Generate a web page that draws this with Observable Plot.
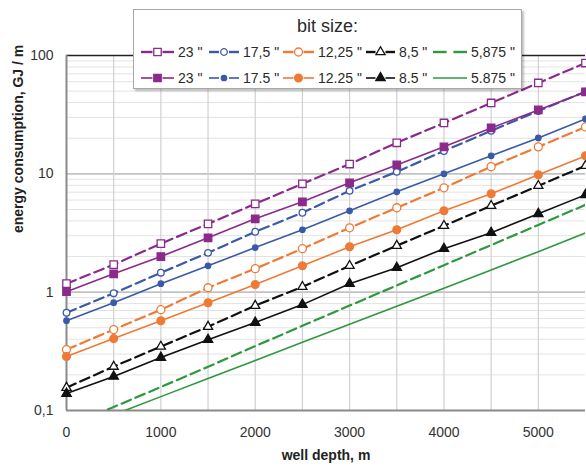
<!DOCTYPE html>
<html><head><meta charset="utf-8">
<script src="https://cdn.jsdelivr.net/npm/d3@7"></script>
<script src="https://cdn.jsdelivr.net/npm/@observablehq/plot@0.6"></script>
<style>
body{margin:0;background:#fff;font-family:"Liberation Sans",Arial,sans-serif;}
#wrap{position:relative;width:586px;height:470px;overflow:hidden;}
#legend{position:absolute;left:133px;top:9px;width:387px;height:78px;background:#fff;border:1px solid #a8a8a8;box-shadow:2px 2px 2px rgba(0,0,0,0.25);color:#2a2a2a;}
#legend .title{position:absolute;left:0;right:0;top:6px;text-align:center;font-size:18px;}
#legend .item{position:absolute;height:14px;display:flex;align-items:center;font-size:14px;white-space:nowrap;}
#legend svg{margin-right:4px;}
</style></head>
<body><div id="wrap"><div id="chart"></div><div id="legend"><div class="title">bit size:</div></div></div>
<script>
const depth = [0,500,1000,1500,2000,2500,3000,3500,4000,4500,5000,5500];
const hollow23   = [1.18,1.71,2.57,3.78,5.58,8.24,12.1,18.3,26.9,39.7,58.6,86.4];
const filled23   = [1.01,1.43,2.0,2.88,4.17,5.80,8.40,11.9,16.9,24.4,34.7,49.2];
const hollow175  = [0.67,0.98,1.46,2.15,3.24,4.69,7.19,10.4,15.6,23.1,34.0,49.5];
const filled175  = [0.574,0.815,1.18,1.67,2.38,3.37,4.87,7.05,10.0,14.2,20.1,29.1];
const hollow1225 = [0.327,0.483,0.711,1.09,1.58,2.33,3.50,5.17,7.62,11.5,16.9,24.9];
const filled1225 = [0.286,0.405,0.574,0.815,1.16,1.67,2.42,3.37,4.87,6.78,9.81,14.2];
const hollow85   = [0.156,0.235,0.347,0.511,0.769,1.11,1.67,2.47,3.64,5.37,7.92,11.7];
const filled85   = [0.139,0.194,0.280,0.397,0.553,0.785,1.18,1.61,2.33,3.18,4.59,6.65];
const dashed5875 = [0.072,0.107,0.158,0.234,0.35,0.52,0.77,1.14,1.69,2.5,3.7,5.47];
const solid5875  = [0.065,0.092,0.131,0.186,0.265,0.377,0.536,0.762,1.08,1.54,2.2,3.16];

const legendRow1 = ['23 "', '17,5 "', '12,25 "', '8,5 "', '5,875 "'];
const legendRow2 = ['23 "', '17.5 "', '12.25 "', '8.5 "', '5.875 "'];
const xTicks = [0,1000,2000,3000,4000,5000];
const xGrid = [500,1000,1500,2000,2500,3000,3500,4000,4500,5000];
const yTicks = [0.1,1,10,100];
const yMinor = [0.2,0.3,0.4,0.5,0.6,0.7,0.8,0.9,2,3,4,5,6,7,8,9,20,30,40,50,60,70,80,90];
const yMajorGrid = [1,10];
const xDomain = [0,5500];
const yDomain = [0.1,100];
const xLabel = "well depth, m";
const yLabel = "energy consumption, GJ / m";

const purple="#8b2a8c", blue="#3a5aa8", orange="#ee7a36", black="#111111", green="#2f983d";
const series = [
  {v:hollow23, color:purple, dashed:true, symbol:"square", hollow:true, r:4.2, label:legendRow1[0]},
  {v:hollow175, color:blue, dashed:true, symbol:"circle", hollow:true, r:3.3, label:legendRow1[1]},
  {v:hollow1225, color:orange, dashed:true, symbol:"circle", hollow:true, r:4.0, label:legendRow1[2]},
  {v:hollow85, color:black, dashed:true, symbol:"triangle", hollow:true, r:3.4, label:legendRow1[3]},
  {v:dashed5875, color:green, dashed:true, symbol:null, label:legendRow1[4]},
  {v:filled23, color:purple, dashed:false, symbol:"square", hollow:false, r:4.2, label:legendRow2[0]},
  {v:filled175, color:blue, dashed:false, symbol:"circle", hollow:false, r:2.7, label:legendRow2[1]},
  {v:filled1225, color:orange, dashed:false, symbol:"circle", hollow:false, r:3.9, label:legendRow2[2]},
  {v:filled85, color:black, dashed:false, symbol:"triangle", hollow:false, r:3.5, label:legendRow2[3]},
  {v:solid5875, color:green, dashed:false, symbol:null, label:legendRow2[4]}
];

const marks = [
  Plot.gridY({ticks: yMinor, stroke:"#e3e3e3", strokeOpacity:1}),
  Plot.gridY({ticks: yMajorGrid, stroke:"#c2c2c2", strokeOpacity:1, strokeWidth:1.6}),
  Plot.gridX({ticks: xGrid, stroke:"#d0d0d0", strokeOpacity:1, strokeWidth:1.2}),
  Plot.axisY({ticks: yTicks, tickSize:0, tickPadding:13, fontSize:14, label:null,
    tickFormat: d => String(d).replace(".", ",")}),
  Plot.axisX({ticks: xTicks, tickSize:0, tickPadding:17, fontSize:14, label:null,
    tickFormat: d => String(d)}),
  Plot.ruleY([yDomain[1]], {stroke:"#222", strokeWidth:1.5}),
  Plot.ruleX([xDomain[0]], {stroke:"#8a8a8a", strokeWidth:2}),
  Plot.ruleY([yDomain[0]], {stroke:"#8a8a8a", strokeWidth:2}),
  Plot.text([xLabel], {frameAnchor:"bottom", dy:45, fontSize:14, fontWeight:"bold", fill:"#222", lineAnchor:"middle"}),
  Plot.text([yLabel], {frameAnchor:"left", dx:-48, rotate:-90, fontSize:14, fontWeight:"bold", fill:"#222", lineAnchor:"middle"})
];
for (const s of series) {
  const data = depth.map((d,i) => ({depth:d, value:s.v[i]}));
  marks.push(Plot.line(data, {x:"depth", y:"value", stroke:s.color,
    strokeWidth: s.dashed ? 2.2 : 1.6, strokeDasharray: s.dashed ? "10,5" : null, clip:true}));
}
for (const s of series) {
  if (!s.symbol) continue;
  const data = depth.map((d,i) => ({depth:d, value:s.v[i]}));
  marks.push(Plot.dot(data, {x:"depth", y:"value", symbol:s.symbol, r:s.r,
    stroke:s.color, strokeWidth:1.3, fill: s.hollow ? "white" : s.color}));
}

const chart = Plot.plot({
  width:586, height:470,
  marginLeft:66, marginRight:1, marginTop:55, marginBottom:60,
  style:{fontFamily:'"Liberation Sans", Arial, sans-serif', color:"#333", background:"white", overflow:"visible"},
  x:{domain:xDomain},
  y:{type:"log", domain:yDomain},
  marks
});
document.getElementById("chart").appendChild(chart);

// legend
const legend = document.getElementById("legend");
const colX = [[7,44],[75,109],[149,184],[232,265],[299,337]];
const rowY = [35,61];
const symbolPath = {square: d3.symbolSquare, circle: d3.symbolCircle, triangle: d3.symbolTriangle};
series.forEach((s, k) => {
  const row = k < 5 ? 0 : 1, col = k % 5;
  const item = document.createElement("div");
  item.className = "item";
  item.style.left = colX[col][0] + "px";
  item.style.top = rowY[row] + "px";
  const ns = "http://www.w3.org/2000/svg";
  const svg = document.createElementNS(ns, "svg");
  const w = colX[col][1] - colX[col][0] - 4;
  svg.setAttribute("width", w);
  svg.setAttribute("height", 14);
  const segs = s.symbol ? [[0, w/2-5],[w/2+5, w]] : (s.dashed ? [[0, w*0.4],[w*0.6, w]] : [[0,w]]);
  for (const [a,b] of segs) {
    const l = document.createElementNS(ns, "line");
    l.setAttribute("x1", a); l.setAttribute("x2", b); l.setAttribute("y1", 7); l.setAttribute("y2", 7);
    l.setAttribute("stroke", s.color); l.setAttribute("stroke-width", s.dashed ? 2.4 : 1.6);
    svg.appendChild(l);
  }
  if (s.symbol) {
    const p = document.createElementNS(ns, "path");
    p.setAttribute("d", d3.symbol(symbolPath[s.symbol], Math.PI * s.r * s.r)());
    p.setAttribute("transform", `translate(${w/2},7)`);
    p.setAttribute("fill", s.hollow ? "white" : s.color);
    p.setAttribute("stroke", s.color);
    p.setAttribute("stroke-width", 1.3);
    svg.appendChild(p);
  }
  item.appendChild(svg);
  const t = document.createElement("span");
  t.textContent = s.label;
  item.appendChild(t);
  legend.appendChild(item);
});
</script></body></html>
